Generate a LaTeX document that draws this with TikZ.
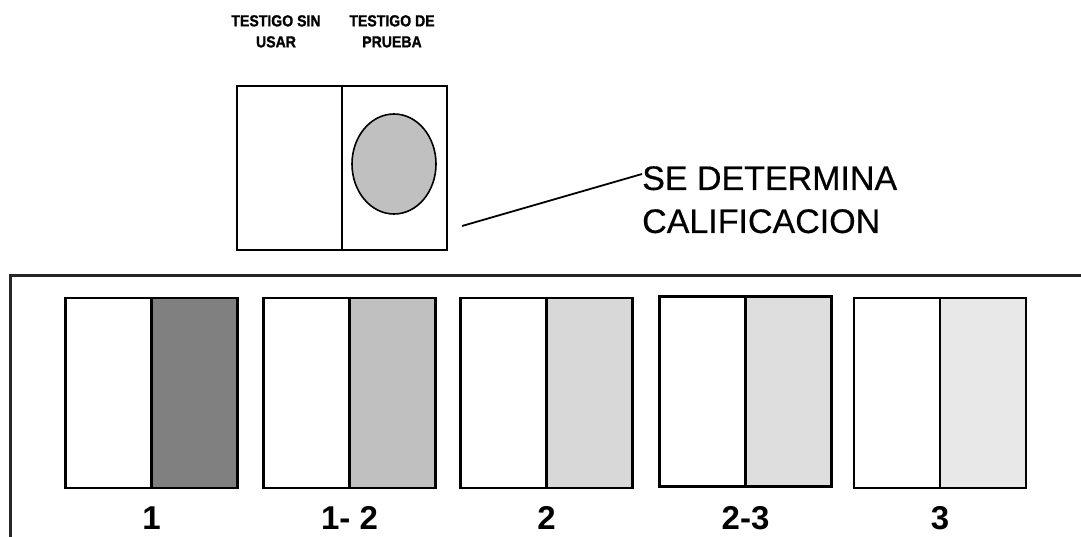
\documentclass[tikz,border=0pt]{standalone}
\usepackage{fontspec}
\setmainfont{Liberation Sans}
\newfontfamily\narrowfont[FakeStretch=0.88,FakeBold=1.2]{Liberation Sans}
\newfontfamily\notefont[FakeBold=0.5]{Liberation Sans}
\usetikzlibrary{positioning,shapes.geometric}

\definecolor{shadeA}{HTML}{808080}
\definecolor{shadeB}{HTML}{C0C0C0}
\definecolor{shadeC}{HTML}{D8D8D8}
\definecolor{shadeD}{HTML}{DEDEDE}
\definecolor{shadeE}{HTML}{E8E8E8}
\definecolor{framegray}{HTML}{262626}

\tikzset{
  half/.style={draw, line width=2.2pt, inner sep=0pt, outer sep=0pt,
    minimum width=86pt, minimum height=190pt},
  grade/.style={inner sep=0pt, font=\fontsize{33}{40}\selectfont\bfseries},
  toplabel/.style={inner sep=0pt, align=center,
    font=\narrowfont\bfseries\fontsize{16}{21}\selectfont},
}

\begin{document}
\begin{tikzpicture}[x=1pt,y=-1pt]
\useasboundingbox (0,0) rectangle (1081,536);

% test piece with its spot
\node[draw, line width=2pt, inner sep=0pt, minimum width=210pt, minimum height=164pt] (probe) at (342,168) {};
\draw[line width=2pt] (probe.north) -- (probe.south);
\node[draw, ellipse, fill=shadeB, line width=1.6pt, inner sep=0pt, minimum width=84pt, minimum height=100pt] (spot) at (394,164) {};

% headings
\node[toplabel, anchor=north] (unused) at (276,15) {TESTIGO SIN\\USAR};
\node[toplabel, anchor=north] (tested) at (392,15) {TESTIGO DE\\PRUEBA};

% rating note
\node[inner sep=0pt, anchor=north west, align=left, font=\notefont\fontsize{34}{43}\selectfont] (verdict) at (642,166) {SE DETERMINA\\CALIFICACION};
\coordinate (tail) at (462,226);
\coordinate (tip) at (642,174);
\draw[line width=1.8pt] (tail) -- (tip);

% scale frame
\draw[line width=3pt, framegray] (10,540) -- (10,275) -- (1085,275);

% grade 1
\node[half] (g1l) at (108.5,393) {};
\node[half, fill=shadeA, right=0pt of g1l] (g1r) {};
\node[grade, below=18.5pt of g1l.south east] (g1) {1};

% grade 1-2
\node[half] (g2l) at (306.5,393) {};
\node[half, fill=shadeB, right=0pt of g2l] (g2r) {};
\node[grade, below=18.5pt of g2l.south east] (g2) {1- 2};

% grade 2
\node[half] (g3l) at (503.5,393) {};
\node[half, fill=shadeC, right=0pt of g3l] (g3r) {};
\node[grade, below=18.5pt of g3l.south east] (g3) {2};

% grade 2-3
\node[half] (g4l) at (702.5,391.5) {};
\node[half, fill=shadeD, right=0pt of g4l] (g4r) {};
\node[grade, below=20pt of g4l.south east] (g4) {2-3};

% grade 3
\node[half] (g5l) at (897,393) {};
\node[half, fill=shadeE, right=0pt of g5l] (g5r) {};
\node[grade, below=18.5pt of g5l.south east] (g5) {3};
\end{tikzpicture}
\end{document}
